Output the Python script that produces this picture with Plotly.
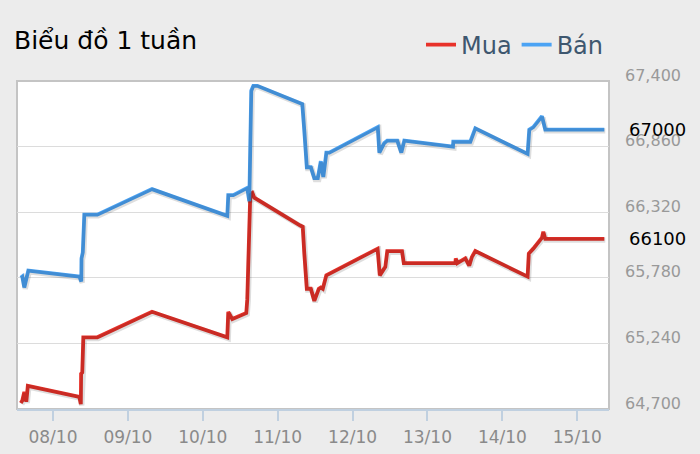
import plotly.graph_objects as go
import pandas as pd

# ---- data ----
ban_time = [
    '2022-10-07 13:41', '2022-10-07 14:10', '2022-10-07 14:48', '2022-10-07 15:27', '2022-10-07 16:05',
    '2022-10-08 08:26', '2022-10-08 09:04', '2022-10-08 09:08', '2022-10-08 09:33', '2022-10-08 10:02', '2022-10-08 14:12',
    '2022-10-09 07:43',
    '2022-10-10 07:51', '2022-10-10 08:10', '2022-10-10 09:46', '2022-10-10 14:15', '2022-10-10 14:54', '2022-10-10 15:32',
    '2022-10-10 16:11', '2022-10-10 17:28',
    '2022-10-11 07:14', '2022-10-11 07:53', '2022-10-11 08:32', '2022-10-11 09:20', '2022-10-11 10:37', '2022-10-11 11:44',
    '2022-10-11 12:51', '2022-10-11 13:49', '2022-10-11 14:37', '2022-10-11 15:35', '2022-10-11 16:32',
    '2022-10-12 08:05', '2022-10-12 08:34', '2022-10-12 10:10', '2022-10-12 11:07', '2022-10-12 14:19', '2022-10-12 15:37',
    '2022-10-12 16:34',
    '2022-10-13 08:10', '2022-10-13 08:16', '2022-10-13 13:43', '2022-10-13 15:19',
    '2022-10-14 08:05', '2022-10-14 08:37', '2022-10-14 09:54', '2022-10-14 12:41', '2022-10-14 13:45',
    '2022-10-15 08:40']
ban_val = [65780, 65790, 65700, 65790, 65840,
           65790, 65750, 65940, 65990, 66300, 66300,
           66510,
           66290, 66460, 66460, 66520, 66410, 67320, 67360, 67360,
           67220, 67210, 66990, 66690, 66690, 66600, 66600, 66740, 66610, 66810, 66810,
           67020, 66810, 66890, 66910, 66910, 66810, 66910,
           66860, 66900, 66900, 67010,
           66800, 67000, 67020, 67110, 67000,
           67000]

mua_time = [
    '2022-10-07 13:41', '2022-10-07 14:10', '2022-10-07 14:48', '2022-10-07 15:27', '2022-10-07 15:56',
    '2022-10-08 08:26', '2022-10-08 08:55', '2022-10-08 09:00', '2022-10-08 09:23', '2022-10-08 09:43', '2022-10-08 14:12',
    '2022-10-09 07:43',
    '2022-10-10 07:51', '2022-10-10 08:10', '2022-10-10 09:27', '2022-10-10 13:56', '2022-10-10 14:15', '2022-10-10 15:13',
    '2022-10-10 15:52', '2022-10-10 16:30',
    '2022-10-11 07:14', '2022-10-11 08:02', '2022-10-11 08:32', '2022-10-11 09:20', '2022-10-11 10:37', '2022-10-11 11:44',
    '2022-10-11 13:10', '2022-10-11 13:49', '2022-10-11 14:27', '2022-10-11 15:35',
    '2022-10-12 08:01', '2022-10-12 08:43', '2022-10-12 10:29', '2022-10-12 11:07', '2022-10-12 15:50', '2022-10-12 16:25',
    '2022-10-13 08:55', '2022-10-13 09:04', '2022-10-13 09:33', '2022-10-13 12:07', '2022-10-13 13:23', '2022-10-13 14:12',
    '2022-10-13 15:19',
    '2022-10-14 08:05', '2022-10-14 08:28', '2022-10-14 09:54', '2022-10-14 12:41', '2022-10-14 13:07', '2022-10-14 13:45',
    '2022-10-15 08:40']
mua_val = [64750, 64770, 64840, 64760, 64890,
           64800, 64740, 64990, 65000, 65290, 65290,
           65500,
           65290, 65500, 65440, 65490, 65600, 66470, 66480, 66440,
           66210, 66200, 65980, 65690, 65690, 65590, 65690, 65700, 65690, 65800,
           66020, 65800, 65870, 66000, 66000, 65900,
           65900, 65940, 65900, 65940, 65880, 65950, 66000,
           65790, 65980, 66020, 66110, 66160, 66100,
           66100]

y_ticks = [64700, 65240, 65780, 66320, 66860, 67400]
x_range = ['2022-10-07 12:28', '2022-10-15 10:10']
title_text = 'Biểu đồ 1 tuần'
names = ['Mua', 'Bán']

# ---- styling ----
RED = '#e8322a'
BLUE = '#4ba3f4'
FONT = 'DejaVu Sans'
LW = 3.8
BG = '#ececec'

# shadow axes: same data, view shifted ~1px right / ~1.3px down
px_time = pd.Timedelta(minutes=19)
px_val = 8.224 * 1.3
x2_range = [str(pd.Timestamp(x_range[0]) - px_time), str(pd.Timestamp(x_range[1]) - px_time)]
y2_range = [y_ticks[0] + px_val, y_ticks[-1] + px_val]

fig = go.Figure()
for t, v in [(mua_time, mua_val), (ban_time, ban_val)]:
    fig.add_trace(go.Scatter(x=t, y=v, mode='lines', xaxis='x2', yaxis='y2',
                             line=dict(color='rgba(0,0,0,0.13)', width=LW + 1.5),
                             showlegend=False, hoverinfo='skip'))
fig.add_trace(go.Scatter(x=mua_time, y=mua_val, mode='lines', name=names[0],
                         line=dict(color=RED, width=LW)))
fig.add_trace(go.Scatter(x=ban_time, y=ban_val, mode='lines', name=names[1],
                         line=dict(color=BLUE, width=LW)))

fig.update_layout(
    width=700, height=454,
    margin=dict(l=17, r=91, t=81, b=45, autoexpand=False),
    paper_bgcolor=BG, plot_bgcolor='#ffffff',
    font=dict(family=FONT),
    title=dict(text=title_text, x=14 / 700, xanchor='left', xref='container',
               y=1 - 40 / 454, yanchor='middle', font=dict(size=25, color='#000000', family=FONT)),
    legend=dict(orientation='h', x=1, xanchor='right', y=1 + 36 / 328, yanchor='middle',
                font=dict(size=24, color='#3e576f', family=FONT), bgcolor='rgba(0,0,0,0)',
                itemwidth=30, tracegroupgap=0),
    xaxis=dict(type='date', range=x_range, tickformat='%d/%m', dtick=86400000, tick0='2022-10-08',
               showgrid=False, ticks='outside', ticklen=10, tickwidth=1.5, tickcolor='#c0d0e0',
               showline=True, linecolor='#c0d0e0', linewidth=2, ticklabelstandoff=2,
               tickfont=dict(size=17, color='#8a8a8a', family=FONT), zeroline=False),
    yaxis=dict(range=[y_ticks[0], y_ticks[-1]], tickvals=y_ticks, tickformat=',d', side='right',
               showgrid=True, gridcolor='#dcdcdc', gridwidth=1, zeroline=False,
               ticks='', ticklabelstandoff=15, ticklabelshift=-6,
               tickfont=dict(size=16, color='#999999', family=FONT)),
    xaxis2=dict(type='date', range=x2_range, overlaying='x', visible=False),
    yaxis2=dict(range=y2_range, overlaying='y', visible=False),
    shapes=[dict(type='rect', xref='paper', yref='paper', x0=0, x1=1, y0=0, y1=1,
                 line=dict(color='#c4c4c4', width=2), layer='below')],
    annotations=[
        dict(text=str(ban_val[-1]), xref='paper', x=1, yref='y', y=ban_val[-1], xanchor='left',
             yanchor='middle', xshift=18, showarrow=False, font=dict(size=18, color='#000000', family=FONT)),
        dict(text=str(mua_val[-1]), xref='paper', x=1, yref='y', y=mua_val[-1], xanchor='left',
             yanchor='middle', xshift=18, showarrow=False, font=dict(size=18, color='#000000', family=FONT)),
    ],
)

# remove the browser's default 8px page margin so the figure sits at the window origin
fig.write_html('out.html', config={'displayModeBar': False},
               post_script="document.body.style.margin='0px';document.body.style.background='%s';" % BG)
